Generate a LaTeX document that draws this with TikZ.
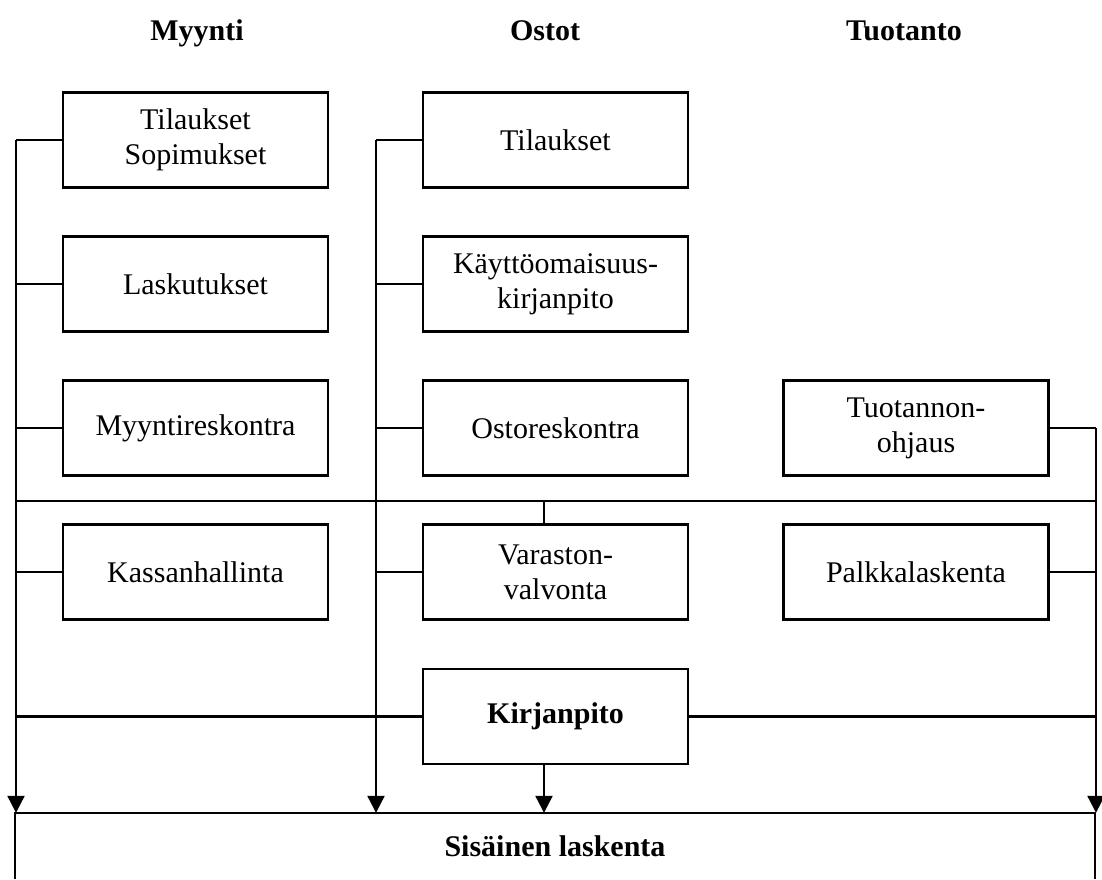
\documentclass[tikz,border=0pt]{standalone}
\usepackage{fontspec}
\setmainfont{Liberation Serif}
\usetikzlibrary{arrows.meta}
\begin{document}
\begin{tikzpicture}[x=1pt,y=-1pt,
  every node/.style={font=\fontsize{30}{35}\selectfont},
  unit/.style={draw,line width=2.2pt,minimum width=265pt,minimum height=95pt,
    align=center,inner sep=0pt},
  head/.style={anchor=base,font=\fontsize{30}{35}\selectfont\bfseries},
  link/.style={line width=2.2pt},
  flow/.style={line width=2.2pt,-{Triangle[width=17pt,length=17pt]}}]
\useasboundingbox (0,0) rectangle (1102,879);

% column headings
\node[head] (hm) at (197,40) {Myynti};
\node[head] (ho) at (545,40) {Ostot};
\node[head] (ht) at (904,40) {Tuotanto};

% sales column
\node[unit] (m1) at (195.5,140) {Tilaukset\\Sopimukset};
\node[unit] (m2) at (195.5,284) {Laskutukset};
\node[unit] (m3) at (195.5,428) {Myyntireskontra};
\node[unit] (m4) at (195.5,572) {Kassanhallinta};

% purchasing column
\node[unit] (o1) at (555.5,140) {Tilaukset};
\node[unit] (o2) at (555.5,284) {Käyttöomaisuus-\\kirjanpito};
\node[unit] (o3) at (555.5,428) {Ostoreskontra};
\node[unit] (o4) at (555.5,572) {Varaston-\\valvonta};

% production column
\node[unit] (t1) at (916,428) {Tuotannon-\\ohjaus};
\node[unit] (t2) at (916,572) {Palkkalaskenta};

% general ledger
\node[unit,font=\fontsize{30}{35}\selectfont\bfseries] (kp) at (555.5,716.5) {Kirjanpito};

% internal accounting, open at the bottom
\node[minimum width=1080pt,minimum height=66pt,inner sep=0pt,
  font=\fontsize{30}{35}\selectfont\bfseries] (sis) at (555,846) {Sisäinen laskenta};
\draw[link] (sis.south west) -- (sis.north west) -- (sis.north east) -- (sis.south east);

% bus lines
\coordinate (mx) at (16,0);
\coordinate (ox) at (376,0);
\coordinate (tx) at (1096,0);
\coordinate (cx) at (544,0);
\coordinate (hy) at (0,501);

% sales bus
\draw[flow] (m1.west -| mx) -- (sis.north -| mx);
\foreach \n in {m1,m2,m3,m4,kp}
  \draw[link] (\n.west) -- (\n.west -| mx);

% purchasing bus
\draw[flow] (o1.west -| ox) -- (sis.north -| ox);
\foreach \n in {o1,o2,o3,o4}
  \draw[link] (\n.west) -- (\n.west -| ox);

% production bus
\draw[flow] (t1.east -| tx) -- (sis.north -| tx);
\foreach \n in {t1,t2,kp}
  \draw[link] (\n.east) -- (\n.east -| tx);

% cross link between the columns
\draw[link] (hy -| mx) -- (hy -| tx);
\draw[link] (hy -| cx) -- (o4.north -| cx);

% ledger into internal accounting
\draw[flow] (kp.south -| cx) -- (sis.north -| cx);
\end{tikzpicture}
\end{document}
